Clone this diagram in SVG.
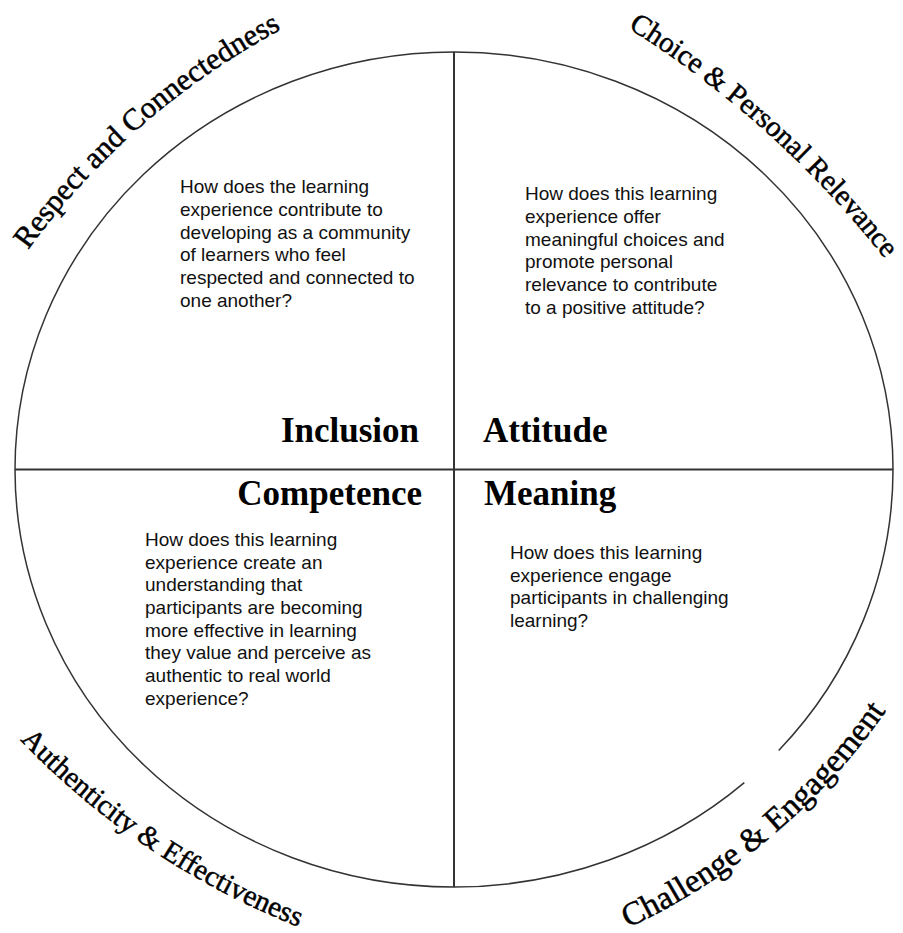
<svg xmlns="http://www.w3.org/2000/svg" width="903" height="933" viewBox="0 0 903 933">
<style>
.body{font-family:"Liberation Sans",Arial,sans-serif;font-size:19px;fill:#111}
.title{font-family:"Liberation Serif","Times New Roman",serif;font-size:35px;font-weight:bold;fill:#000}
.arc{font-family:"Liberation Serif","Times New Roman",serif;font-size:29px;fill:#000;stroke:#000;stroke-width:0.5}
.ln{stroke:#333;fill:none}
</style>
<defs>
<path id="p1" d="M 28 250 A 750 750 0 0 1 504.6 -47.6"/>
<path id="p2" d="M 628 28 A 1000 1000 0 0 1 1037.7 534"/>
<path id="p3" d="M 20 740 A 786 786 0 0 0 451.5 970"/>
<path id="p4" d="M 628 928 A 650 650 0 0 0 1003.1 339.1"/>
</defs>
<rect width="903" height="933" fill="#fff"/>
<g id="connectors">
<path class="ln" stroke-width="1.5" d="M 744.32 782.67 A 439 417.5 0 0 1 454 887 A 439 417.5 0 0 1 15 469.5 A 439 417.5 0 0 1 454 52 A 439 417.5 0 0 1 893 469.5 A 439 417.5 0 0 1 778.7 750.48"/>
<line class="ln" stroke-width="2" x1="454" y1="52" x2="454" y2="887"/>
<line class="ln" stroke-width="2" x1="15" y1="469.5" x2="893" y2="469.5"/>
</g>
<g id="inclusion">
<text class="title" x="419" y="442" text-anchor="end">Inclusion</text>
<text class="body"><tspan x="180" y="193">How does the learning</tspan><tspan x="180" y="216">experience contribute to</tspan><tspan x="180" y="238.5">developing as a community</tspan><tspan x="180" y="261">of learners who feel</tspan><tspan x="180" y="284">respected and connected to</tspan><tspan x="180" y="306.5">one another?</tspan></text>
</g>
<g id="attitude">
<text class="title" x="483" y="442">Attitude</text>
<text class="body"><tspan x="525" y="200">How does this learning</tspan><tspan x="525" y="223">experience offer</tspan><tspan x="525" y="245.5">meaningful choices and</tspan><tspan x="525" y="268">promote personal</tspan><tspan x="525" y="291">relevance to contribute</tspan><tspan x="525" y="313.5">to a positive attitude?</tspan></text>
</g>
<g id="competence">
<text class="title" x="422" y="505" text-anchor="end">Competence</text>
<text class="body"><tspan x="145" y="546">How does this learning</tspan><tspan x="145" y="568.7">experience create an</tspan><tspan x="145" y="591.3">understanding that</tspan><tspan x="145" y="614">participants are becoming</tspan><tspan x="145" y="636.7">more effective in learning</tspan><tspan x="145" y="659.3">they value and perceive as</tspan><tspan x="145" y="682">authentic to real world</tspan><tspan x="145" y="704.7">experience?</tspan></text>
</g>
<g id="meaning">
<text class="title" x="484" y="505">Meaning</text>
<text class="body"><tspan x="510" y="559">How does this learning</tspan><tspan x="510" y="581.7">experience engage</tspan><tspan x="510" y="604.3">participants in challenging</tspan><tspan x="510" y="627">learning?</tspan></text>
</g>
<g id="label-respect"><text class="arc" style="font-size:30.5px"><textPath href="#p1">Respect and Connectedness</textPath></text></g>
<g id="label-choice"><text class="arc"><textPath href="#p2">Choice &amp; Personal Relevance</textPath></text></g>
<g id="label-authenticity"><text class="arc"><textPath href="#p3">Authenticity &amp; Effectiveness</textPath></text></g>
<g id="label-challenge"><text class="arc" style="font-size:33px"><textPath href="#p4">Challenge &amp; Engagement</textPath></text></g>
</svg>
